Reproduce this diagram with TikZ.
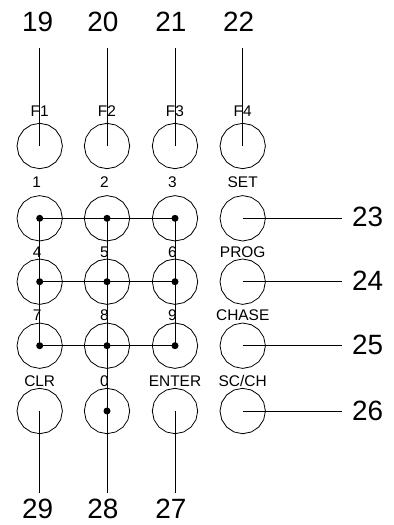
\documentclass[tikz,border=0pt]{standalone}
\usepackage{fontspec}
\setmainfont{Liberation Sans}
\usetikzlibrary{shapes.geometric}
\begin{document}
\begin{tikzpicture}[x=1bp,y=-1bp, line width=0.8bp,
  key/.style={draw, regular polygon, regular polygon sides=16, shape border rotate=11.25, minimum size=45.4bp, inner sep=0pt},
  lab/.style={font=\fontsize{15.5}{17}\selectfont, inner sep=0pt},
  num/.style={font=\fontsize{28}{30}\selectfont, inner sep=0pt},
  dotr/.style={radius=3.5bp}]
\useasboundingbox (0,0) rectangle (393,525);
% columns and rows
\def\xa{39.7}\def\xb{107}\def\xc{175}\def\xd{242.7}
\def\ya{146}\def\yb{218.3}\def\yc{281.7}\def\yd{345.7}\def\ye{411}
% keys
\node[key] (f1) at (\xa,\ya) {};
\node[key] (f2) at (\xb,\ya) {};
\node[key] (f3) at (\xc,\ya) {};
\node[key] (f4) at (\xd,\ya) {};
\node[key] (k1) at (\xa,\yb) {};
\node[key] (k2) at (\xb,\yb) {};
\node[key] (k3) at (\xc,\yb) {};
\node[key] (set) at (\xd,\yb) {};
\node[key] (k4) at (\xa,\yc) {};
\node[key] (k5) at (\xb,\yc) {};
\node[key] (k6) at (\xc,\yc) {};
\node[key] (prog) at (\xd,\yc) {};
\node[key] (k7) at (\xa,\yd) {};
\node[key] (k8) at (\xb,\yd) {};
\node[key] (k9) at (\xc,\yd) {};
\node[key] (chase) at (\xd,\yd) {};
\node[key] (clr) at (\xa,\ye) {};
\node[key] (k0) at (\xb,\ye) {};
\node[key] (enter) at (\xc,\ye) {};
\node[key] (scch) at (\xd,\ye) {};
% key labels
\node[lab] (lf1) at (\xa,111) {F1};
\node[lab] (lf2) at (\xb,111) {F2};
\node[lab] (lf3) at (\xc,111) {F3};
\node[lab] (lf4) at (\xd,111) {F4};
\node[lab] (l1) at (\xa-3,182) {1};
\node[lab] (l2) at (\xb-2.5,182) {2};
\node[lab] (l3) at (\xc-2.5,182) {3};
\node[lab] (lset) at (\xd,182) {SET};
\node[lab] (l4) at (\xa-2.5,252) {4};
\node[lab] (l5) at (\xb-2.5,252) {5};
\node[lab] (l6) at (\xc-2.5,252) {6};
\node[lab] (lprog) at (\xd,252) {PROG};
\node[lab] (l7) at (\xa-2.5,315) {7};
\node[lab] (l8) at (\xb-2.5,315) {8};
\node[lab] (l9) at (\xc-2.5,315) {9};
\node[lab] (lchase) at (\xd,315) {CHASE};
\node[lab] (lclr) at (\xa,381) {CLR};
\node[lab] (l0) at (\xb-2.5,381) {0};
\node[lab] (lenter) at (\xc,381) {ENTER};
\node[lab] (lscch) at (\xd,381) {SC/CH};
% reference numbers
\node[num] (n19) at (\xa-2,22) {19};
\node[num] (n20) at (\xb-4,22) {20};
\node[num] (n21) at (\xc-4,22) {21};
\node[num] (n22) at (\xd-4,22) {22};
\node[num] (n23) at (367.7,217.3) {23};
\node[num] (n24) at (367.7,281) {24};
\node[num] (n25) at (367.7,345) {25};
\node[num] (n26) at (367.7,410.5) {26};
\node[num] (n29) at (\xa-2,509) {29};
\node[num] (n28) at (\xb-4,509) {28};
\node[num] (n27) at (\xc-4,509) {27};
% leader ends
\coordinate (t19) at (\xa,47.7);
\coordinate (t20) at (\xb,47.7);
\coordinate (t21) at (\xc,47.7);
\coordinate (t22) at (\xd,47.7);
\coordinate (t23) at (341.7,\yb);
\coordinate (t24) at (341.7,\yc);
\coordinate (t25) at (341.7,\yd);
\coordinate (t26) at (341.7,\ye);
\coordinate (t29) at (\xa,493);
\coordinate (t28) at (\xb,493);
\coordinate (t27) at (\xc,493);
% leaders
\draw (t19) -- (f1.center);
\draw (t20) -- (f2.center);
\draw (t21) -- (f3.center);
\draw (t22) -- (f4.center);
\draw (set.center) -- (t23);
\draw (prog.center) -- (t24);
\draw (chase.center) -- (t25);
\draw (scch.center) -- (t26);
\draw (clr.center) -- (t29);
\draw (k0.center) -- (t28);
\draw (enter.center) -- (t27);
% matrix wiring
\draw (k1.center) -- (k3.center);
\draw (k4.center) -- (k6.center);
\draw (k7.center) -- (k9.center);
\draw (k1.center) -- (k7.center);
\draw (k2.center) -- (k0.center);
\draw (k3.center) -- (k9.center);
\foreach \k in {k1,k2,k3,k4,k5,k6,k7,k8,k9,k0}
  \fill[dotr] (\k.center) circle;
\end{tikzpicture}
\end{document}
